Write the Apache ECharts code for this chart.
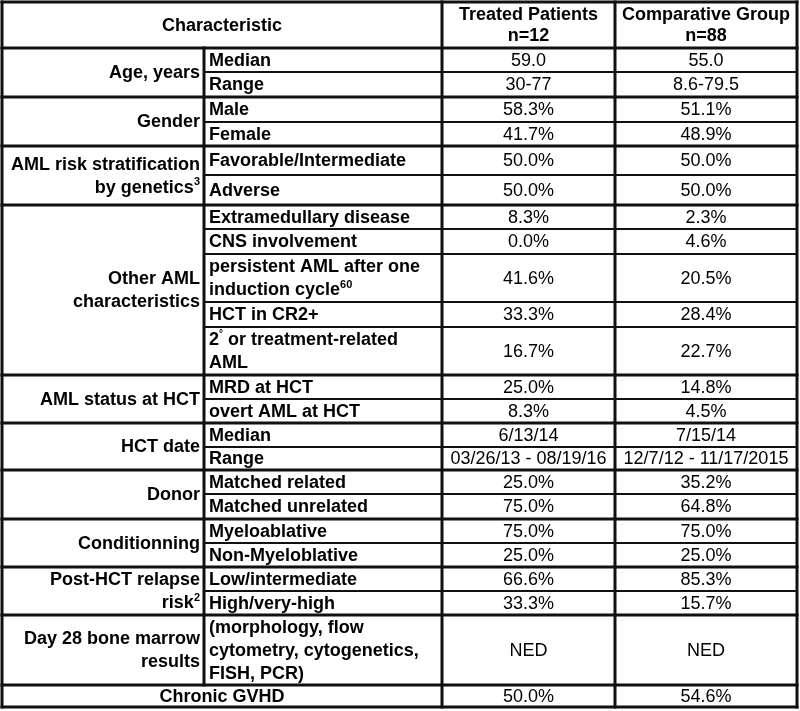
<!DOCTYPE html>
<html>
<head>
<meta charset="utf-8">
<script src="https://cdn.jsdelivr.net/npm/echarts@6/dist/echarts.min.js"></script>
<style>
html,body{margin:0;padding:0;background:#fff;}
#chart{width:800px;height:711px;}
</style>
</head>
<body>
<div id="chart"></div>
<script>
// ---------- DATA ----------
const columnHeaders = ['Characteristic', 'Treated Patients\nn=12', 'Comparative Group\nn=88'];
const groupNames = [
  'Age, years',
  'Gender',
  'AML risk stratification\nby genetics{sup|3}',
  'Other AML\ncharacteristics',
  'AML status at HCT',
  'HCT date',
  'Donor',
  'Conditionning',
  'Post-HCT relapse\nrisk{sup|2}',
  'Day 28 bone marrow\nresults',
  'Chronic GVHD'
];
const groupRowCounts = [2, 2, 2, 5, 2, 2, 2, 2, 2, 1, 1];
const subItems = [
  'Median', 'Range',
  'Male', 'Female',
  'Favorable/Intermediate', 'Adverse',
  'Extramedullary disease', 'CNS involvement', 'persistent AML after one\ninduction cycle{sup|60}', 'HCT in CR2+', '2{deg|°} or treatment-related\nAML',
  'MRD at HCT', 'overt AML at HCT',
  'Median', 'Range',
  'Matched related', 'Matched unrelated',
  'Myeloablative', 'Non-Myeloblative',
  'Low/intermediate', 'High/very-high',
  '(morphology, flow\ncytometry, cytogenetics,\nFISH, PCR)',
  null
];
const treatedValues = ['59.0', '30-77', '58.3%', '41.7%', '50.0%', '50.0%', '8.3%', '0.0%', '41.6%', '33.3%', '16.7%', '25.0%', '8.3%', '6/13/14', '03/26/13 - 08/19/16', '25.0%', '75.0%', '75.0%', '25.0%', '66.6%', '33.3%', 'NED', '50.0%'];
const comparativeValues = ['55.0', '8.6-79.5', '51.1%', '48.9%', '50.0%', '50.0%', '2.3%', '4.6%', '20.5%', '28.4%', '22.7%', '14.8%', '4.5%', '7/15/14', '12/7/12 - 11/17/2015', '35.2%', '64.8%', '75.0%', '25.0%', '85.3%', '15.7%', 'NED', '54.6%'];

// ---------- LAYOUT (table geometry in axis units) ----------
const colEdges = [2, 204, 442, 615, 797];
const rowEdges = [2, 48, 72, 97, 122, 146, 175, 205, 229, 254, 302, 327, 375, 399, 423, 447, 470, 494, 519, 543, 567, 591, 615, 685, 707];

const FONT = '"Liberation Sans", Arial, Helvetica, sans-serif';
const rich = {
  sup: { fontSize: 11, fontWeight: 'bold', fontFamily: FONT, verticalAlign: 'top', lineHeight: 14, fill: '#000' },
  deg: { fontSize: 10, fontWeight: 'bold', fontFamily: FONT, verticalAlign: 'top', lineHeight: 12, fill: '#000' }
};

// ---------- build cells ----------
const cells = [];
cells.push({ c0: 0, c1: 2, r0: 0, r1: 1, text: columnHeaders[0], kind: 'center', bold: true, lh: 21 });
cells.push({ c0: 2, c1: 3, r0: 0, r1: 1, text: columnHeaders[1], kind: 'center', bold: true, lh: 21 });
cells.push({ c0: 3, c1: 4, r0: 0, r1: 1, text: columnHeaders[2], kind: 'center', bold: true, lh: 21 });
let row = 0;
const groupBoundaries = new Set([1]);
groupNames.forEach((g, gi) => {
  const n = groupRowCounts[gi];
  const r0 = row + 1, r1 = row + 1 + n;
  const spanAll = subItems[row] === null;
  cells.push({ c0: 0, c1: spanAll ? 2 : 1, r0, r1, text: g, kind: spanAll ? 'center' : 'right', bold: true, lh: 23 });
  for (let k = 0; k < n; k++) {
    const ri = row + k;
    if (subItems[ri] !== null) {
      cells.push({ c0: 1, c1: 2, r0: ri + 1, r1: ri + 2, text: subItems[ri], kind: 'left', bold: true, lh: 23 });
    }
    cells.push({ c0: 2, c1: 3, r0: ri + 1, r1: ri + 2, text: treatedValues[ri], kind: 'center', bold: false, lh: 23 });
    cells.push({ c0: 3, c1: 4, r0: ri + 1, r1: ri + 2, text: comparativeValues[ri], kind: 'center', bold: false, lh: 23 });
  }
  row += n;
  groupBoundaries.add(row + 1);
});

// ---------- build rule lines ----------
const lines = [];
const X0 = colEdges[0], X1 = colEdges[4];
const Y0 = rowEdges[0], Y1 = rowEdges[rowEdges.length - 1];
lines.push([X0, Y0, X1, Y0, 3]);
lines.push([X0, Y1, X1, Y1, 3]);
lines.push([X0, Y0, X0, Y1, 3]);
lines.push([X1, Y0, X1, Y1, 3]);
for (let k = 1; k < rowEdges.length - 1; k++) {
  if (groupBoundaries.has(k)) lines.push([X0, rowEdges[k], X1, rowEdges[k], 3]);
  else lines.push([colEdges[1], rowEdges[k], X1, rowEdges[k], 2]);
}
lines.push([colEdges[1], rowEdges[1], colEdges[1], rowEdges[rowEdges.length - 2], 3]);
lines.push([colEdges[2], Y0, colEdges[2], Y1, 3]);
lines.push([colEdges[3], Y0, colEdges[3], Y1, 3]);

const chart = echarts.init(document.getElementById('chart'), null, { renderer: 'canvas' });
chart.setOption({
  backgroundColor: '#ffffff',
  animation: false,
  grid: { left: 0, right: 0, top: 0, bottom: 0 },
  xAxis: { type: 'value', min: 0, max: 800, show: false },
  yAxis: { type: 'value', min: 0, max: 711, inverse: true, show: false },
  series: [
    {
      type: 'custom',
      name: 'rules',
      silent: true,
      data: lines,
      encode: { x: [0, 2], y: [1, 3] },
      renderItem: function (params, api) {
        const a = api.coord([api.value(0), api.value(1)]);
        const b = api.coord([api.value(2), api.value(3)]);
        return {
          type: 'line',
          shape: { x1: a[0], y1: a[1], x2: b[0], y2: b[1] },
          style: { stroke: '#111', lineWidth: api.value(4), lineCap: 'square' }
        };
      }
    },
    {
      type: 'custom',
      name: 'cells',
      silent: true,
      data: cells.map(c => [colEdges[c.c0], rowEdges[c.r0], colEdges[c.c1], rowEdges[c.r1]]),
      encode: { x: [0, 2], y: [1, 3] },
      renderItem: function (params, api) {
        const c = cells[params.dataIndex];
        const a = api.coord([api.value(0), api.value(1)]);
        const b = api.coord([api.value(2), api.value(3)]);
        let x, align;
        if (c.kind === 'right') { x = b[0] - 4; align = 'right'; }
        else if (c.kind === 'left') { x = a[0] + 5; align = 'left'; }
        else { x = (a[0] + b[0]) / 2; align = 'center'; }
        return {
          type: 'text',
          style: {
            x: x,
            y: (a[1] + b[1]) / 2 + 1,
            text: c.text,
            align: align,
            verticalAlign: 'middle',
            fill: '#000',
            fontSize: 18,
            fontWeight: c.bold ? 'bold' : 'normal',
            fontFamily: FONT,
            lineHeight: c.lh,
            rich: rich
          }
        };
      }
    }
  ]
});
</script>
</body>
</html>
